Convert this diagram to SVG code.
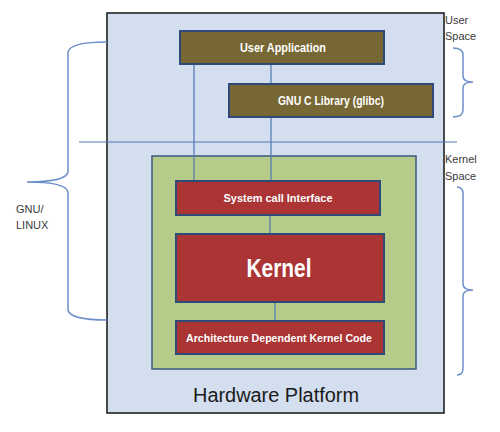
<svg xmlns="http://www.w3.org/2000/svg" width="500" height="432" viewBox="0 0 500 432">
<style>
.box{stroke:#2f4a78;stroke-width:2}
.olive{fill:#776734}
.red{fill:#ab3434}
.wt{fill:#ffffff;font-family:"Liberation Sans",Arial,sans-serif;font-weight:bold;text-anchor:middle;dominant-baseline:central}
.lbl{fill:#3a3a3a;font-family:"Liberation Sans",Arial,sans-serif;font-size:11px}
.conn{stroke:#4f77b5;stroke-width:1.2;fill:none}
.brace{stroke:#6b8fc8;stroke-width:1.5;fill:none}
</style>
<rect width="500" height="432" fill="#ffffff"/>
<g id="outer">
<rect x="107" y="13" width="337" height="400" fill="#d3deee" stroke="#222222" stroke-width="1.6"/>
<text x="276" y="395" style="font-family:'Liberation Sans',Arial,sans-serif;font-size:20px;fill:#1a1a1a;text-anchor:middle;dominant-baseline:central" textLength="166" lengthAdjust="spacingAndGlyphs">Hardware Platform</text>
</g>
<g id="kernel-space">
<rect x="152" y="156" width="264" height="213" fill="#b4cb89" stroke="#3a5a7f" stroke-width="1.5"/>
</g>
<g id="connectors">
<line class="conn" x1="194" y1="64" x2="194" y2="184"/>
<line class="conn" x1="271" y1="64" x2="271" y2="89"/>
<line class="conn" x1="271" y1="117" x2="271" y2="181"/>
<line class="conn" x1="270" y1="215" x2="270" y2="234"/>
<line class="conn" x1="275" y1="302" x2="275" y2="321"/>
<line class="conn" x1="79" y1="142" x2="457" y2="142"/>
</g>
<g id="user-application">
<rect class="box olive" x="180" y="31" width="204" height="33"/>
<text class="wt" x="283" y="48" font-size="12" textLength="86" lengthAdjust="spacingAndGlyphs">User Application</text>
</g>
<g id="glibc">
<rect class="box olive" x="229" y="84" width="204" height="33"/>
<text class="wt" x="331" y="101" font-size="12" textLength="106" lengthAdjust="spacingAndGlyphs">GNU C Library (glibc)</text>
</g>
<g id="syscall">
<rect class="box red" x="176" y="181" width="204" height="34"/>
<text class="wt" x="278" y="198" font-size="11" textLength="109" lengthAdjust="spacingAndGlyphs">System call  Interface</text>
</g>
<g id="kernel">
<rect class="box red" x="176" y="234" width="208" height="68"/>
<text class="wt" x="279" y="268" font-size="26" textLength="65" lengthAdjust="spacingAndGlyphs">Kernel</text>
</g>
<g id="arch">
<rect class="box red" x="176" y="321" width="208" height="33"/>
<text class="wt" x="279" y="338" font-size="11" textLength="186" lengthAdjust="spacingAndGlyphs">Architecture Dependent Kernel Code</text>
</g>
<g id="gnu-linux">
<path class="brace" d="M107,42 Q70,42 68,52 L68,172 Q66,182 27,182 Q66,182 68,192 L68,310 Q70,320 107,320"/>
<text class="lbl" x="16" y="213">GNU/</text>
<text class="lbl" x="16" y="229">LINUX</text>
</g>
<g id="user-space">
<path class="brace" d="M453,48 Q463,48 463,55 L463,76 Q463,82 473,82 Q463,82 463,88 L463,110 Q463,117 453,117"/>
<text class="lbl" x="445" y="24">User</text>
<text class="lbl" x="445" y="40">Space</text>
</g>
<g id="kernel-space-label">
<path class="brace" d="M457,187 Q463,187 463,194 L463,284 Q463,290 473,290 Q463,290 463,296 L463,368 Q463,375 457,375"/>
<text class="lbl" x="445" y="163">Kernel</text>
<text class="lbl" x="445" y="180">Space</text>
</g>
</svg>
